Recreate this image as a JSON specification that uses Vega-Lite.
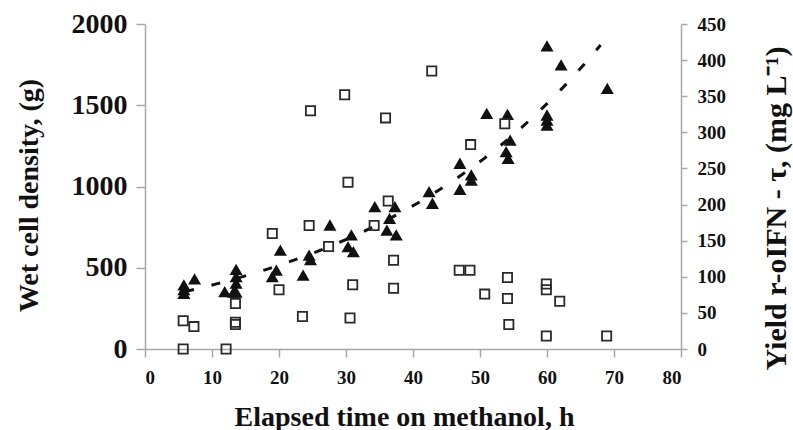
{
  "$schema": "https://vega.github.io/schema/vega-lite/v6.json",
  "width": 536,
  "height": 325,
  "autosize": {"type": "none"},
  "padding": {"left": 145, "top": 24, "right": 112, "bottom": 81},
  "background": "white",
  "config": {
    "view": {"stroke": null},
    "axis": {
      "grid": false,
      "domainColor": "#a8a8a8",
      "tickColor": "#a8a8a8",
      "domainWidth": 1.5,
      "tickWidth": 1.5,
      "labelFont": "Liberation Serif",
      "labelFontWeight": "bold",
      "labelColor": "#111",
      "titleFont": "Liberation Serif",
      "titleFontWeight": "bold",
      "titleColor": "#111",
      "titleFontSize": 28
    }
  },
  "datasets": {
    "density": [
      {"t": 5.8, "v": 394}, {"t": 5.8, "v": 365}, {"t": 5.8, "v": 343},
      {"t": 7.4, "v": 432},
      {"t": 11.9, "v": 353}, {"t": 13.2, "v": 350},
      {"t": 13.6, "v": 490}, {"t": 13.6, "v": 445}, {"t": 13.6, "v": 405}, {"t": 13.6, "v": 350},
      {"t": 19.0, "v": 445}, {"t": 19.6, "v": 485}, {"t": 20.2, "v": 609},
      {"t": 23.6, "v": 455}, {"t": 24.5, "v": 578}, {"t": 24.7, "v": 550},
      {"t": 27.6, "v": 763},
      {"t": 30.8, "v": 702}, {"t": 30.3, "v": 630}, {"t": 31.1, "v": 599},
      {"t": 34.3, "v": 876}, {"t": 36.1, "v": 732}, {"t": 36.5, "v": 804}, {"t": 37.3, "v": 876}, {"t": 37.5, "v": 702},
      {"t": 42.4, "v": 968}, {"t": 42.9, "v": 897},
      {"t": 47.0, "v": 1143}, {"t": 47.0, "v": 983}, {"t": 48.7, "v": 1071}, {"t": 48.7, "v": 1040},
      {"t": 51.0, "v": 1450}, {"t": 53.9, "v": 1214}, {"t": 54.1, "v": 1444}, {"t": 54.2, "v": 1173}, {"t": 54.5, "v": 1286},
      {"t": 60.0, "v": 1865}, {"t": 60.0, "v": 1440}, {"t": 60.0, "v": 1409}, {"t": 60.0, "v": 1378},
      {"t": 62.1, "v": 1748}, {"t": 69.0, "v": 1604}
    ],
    "yield": [
      {"t": 5.7, "y": 0}, {"t": 5.7, "y": 39}, {"t": 7.3, "y": 31}, {"t": 12.1, "y": 0},
      {"t": 13.5, "y": 63}, {"t": 13.5, "y": 37}, {"t": 13.5, "y": 34},
      {"t": 19.0, "y": 160}, {"t": 20.0, "y": 82}, {"t": 23.5, "y": 45},
      {"t": 24.5, "y": 171}, {"t": 24.7, "y": 330}, {"t": 27.4, "y": 142},
      {"t": 29.8, "y": 352}, {"t": 30.3, "y": 231}, {"t": 30.6, "y": 43}, {"t": 31.0, "y": 89},
      {"t": 34.2, "y": 171}, {"t": 35.9, "y": 320}, {"t": 36.3, "y": 205}, {"t": 37.1, "y": 123}, {"t": 37.1, "y": 84},
      {"t": 42.8, "y": 385}, {"t": 46.9, "y": 109}, {"t": 48.5, "y": 109}, {"t": 48.6, "y": 283},
      {"t": 50.7, "y": 76}, {"t": 53.7, "y": 312}, {"t": 54.1, "y": 99}, {"t": 54.1, "y": 70}, {"t": 54.3, "y": 34},
      {"t": 59.9, "y": 90}, {"t": 59.9, "y": 82}, {"t": 59.9, "y": 18}, {"t": 61.9, "y": 66}, {"t": 68.9, "y": 18}
    ]
  },
  "layer": [
    {
      "layer": [
        {
          "data": {"name": "density"},
          "mark": {"type": "point", "shape": "triangle-up", "filled": true, "color": "#111", "size": 170, "opacity": 1},
          "encoding": {
            "x": {
              "field": "t", "type": "quantitative",
              "scale": {"domain": [0, 80], "nice": false},
              "axis": {
                "values": [0, 10, 20, 30, 40, 50, 60, 70, 80],
                "format": "d",
                "tickSize": 8, "labelPadding": 11, "labelFontSize": 19,
                "title": "Elapsed time on methanol, h",
                "titleX": 259, "titleY": 76, "titleAlign": "center", "titleBaseline": "alphabetic"
              }
            },
            "y": {
              "field": "v", "type": "quantitative",
              "scale": {"domain": [0, 2000], "nice": false},
              "axis": {
                "values": [0, 500, 1000, 1500, 2000],
                "format": "d",
                "tickSize": 9, "labelPadding": 9, "labelFontSize": 28,
                "title": "Wet cell density, (g)",
                "titleAngle": 270, "titleX": -108, "titleY": 171, "titleAlign": "center", "titleBaseline": "alphabetic"
              }
            }
          }
        },
        {
          "data": {"name": "density"},
          "transform": [{"regression": "v", "on": "t", "method": "exp", "extent": [6, 68]}],
          "mark": {"type": "line", "color": "#111", "strokeWidth": 3, "strokeDash": [9, 18], "strokeCap": "butt"},
          "encoding": {
            "x": {"field": "t", "type": "quantitative"},
            "y": {"field": "v", "type": "quantitative"}
          }
        }
      ]
    },
    {
      "data": {"name": "yield"},
      "mark": {"type": "point", "shape": "square", "filled": false, "stroke": "#2a2a2a", "strokeWidth": 1.8, "size": 85, "opacity": 1},
      "encoding": {
        "x": {"field": "t", "type": "quantitative"},
        "y": {
          "field": "y", "type": "quantitative",
          "scale": {"domain": [0, 450], "nice": false},
          "axis": {
            "orient": "right",
            "values": [0, 50, 100, 150, 200, 250, 300, 350, 400, 450],
            "format": "d",
            "tickSize": 6, "labelPadding": 10, "labelFontSize": 19,
            "title": "Yield r-oIFN - τ, (mg  L⁻¹)",
            "titleFontSize": 30,
            "titleAngle": 270, "titleX": 104, "titleY": 184, "titleAlign": "center", "titleBaseline": "alphabetic"
          }
        }
      }
    }
  ],
  "resolve": {"scale": {"y": "independent"}}
}
